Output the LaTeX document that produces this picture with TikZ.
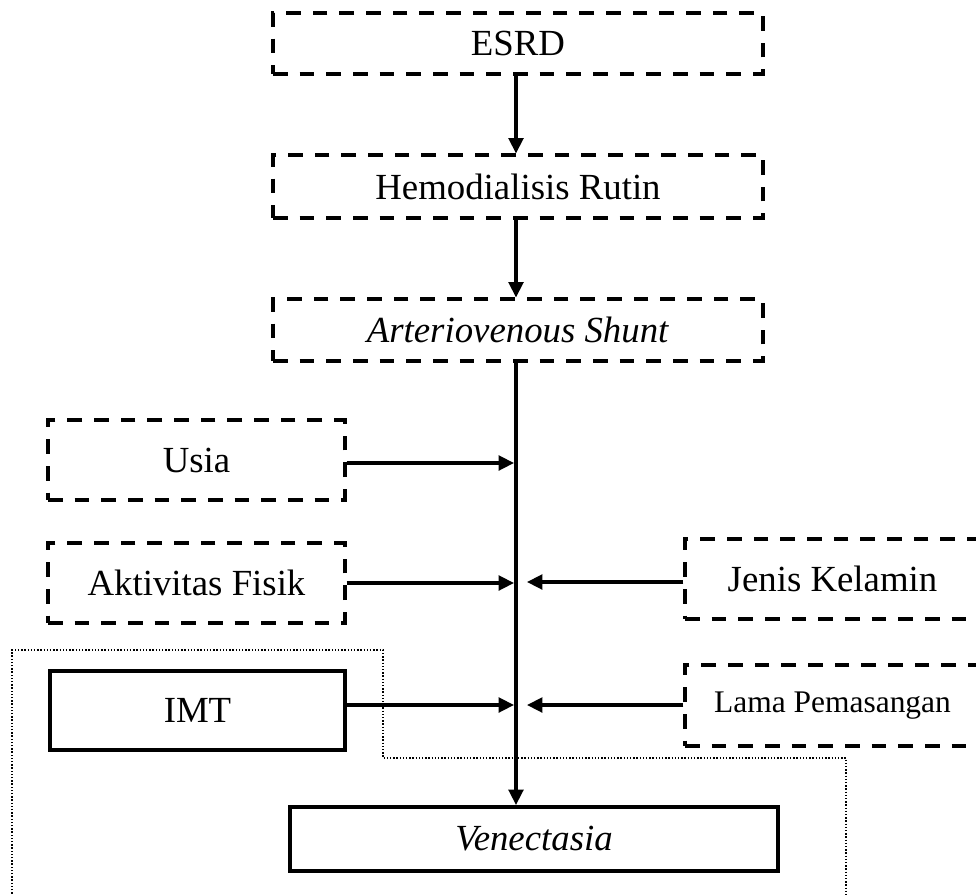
\documentclass[tikz,border=0pt]{standalone}
\usepackage{fontspec}
\setmainfont{Liberation Serif}
\usetikzlibrary{arrows.meta}
\begin{document}
\begin{tikzpicture}[x=0.75pt,y=-0.75pt,
  bw/.style={minimum width=#1*0.75pt},
  bh/.style={minimum height=#1*0.75pt},
  basebox/.style={inner sep=0pt, font=\fontsize{27.6}{30}\selectfont},
  dbox/.style={basebox, draw, line width=2.3pt, dash pattern=on 11pt off 9pt},
  sbox/.style={basebox, draw, line width=3pt},
  arr/.style={line width=2.4pt, -{Triangle[length=11.5pt,width=11pt]}},
  dotline/.style={line width=1.1pt, dash pattern=on 1.1pt off 1.3pt}]
\useasboundingbox (0,0) rectangle (976,894);
\clip (0,0) rectangle (976,894);
\node[dbox, bw=490, bh=61] (esrd) at (518,43.5) {ESRD};
\node[dbox, bw=490, bh=63] (hemo) at (518,186.5) {Hemodialisis Rutin};
\node[dbox, bw=490, bh=62] (av) at (518,330) {\textit{Arteriovenous Shunt}};
\node[dbox, bw=297, bh=80] (usia) at (196.5,460) {Usia};
\node[dbox, bw=297, bh=80] (akt) at (196.5,583) {Aktivitas Fisik};
\node[sbox, bw=295, bh=79] (imt) at (197.5,710.5) {IMT};
\node[dbox, bw=295, bh=80] (jk) at (832.5,579) {Jenis Kelamin};
\node[dbox, bw=295, bh=81, font=\fontsize{23.6}{26}\selectfont] (lama) at (832.5,705.5) {Lama Pemasangan};
\node[sbox, bw=488, bh=64] (ven) at (534,839) {\textit{Venectasia}};
\coordinate (sp) at (516,0);
\draw[arr] (esrd.south -| sp) -- (hemo.north -| sp);
\draw[arr] (hemo.south -| sp) -- (av.north -| sp);
\draw[arr] (av.south -| sp) -- (ven.north -| sp);
\coordinate (p1) at (514,463);
\coordinate (p2) at (514,583);
\coordinate (p3) at (514,705);
\coordinate (q2) at (527,582);
\coordinate (q3) at (527,705);
\draw[arr] (usia.east |- p1) -- (p1);
\draw[arr] (akt.east |- p2) -- (p2);
\draw[arr] (imt.east |- p3) -- (p3);
\draw[arr] (jk.west |- q2) -- (q2);
\draw[arr] (lama.west |- q3) -- (q3);
\draw[dotline] (12,900) -- (12,650) -- (383,650) -- (383,758) -- (846,758) -- (846,900);
\end{tikzpicture}
\end{document}
